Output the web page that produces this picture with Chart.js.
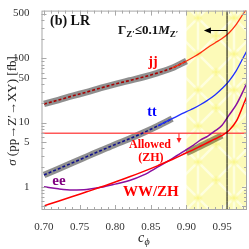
<!DOCTYPE html>
<html>
<head>
<meta charset="utf-8">
<style>
  html, body { margin: 0; padding: 0; background: #fff; }
</style>
</head>
<body>
<canvas id="grafica" width="249" height="249"></canvas>
<script src="https://cdn.jsdelivr.net/npm/chart.js@4/dist/chart.umd.min.js"></script>
<script>
// Valores de c_phi
const cPhi = [0.70, 0.72, 0.74, 0.76, 0.78, 0.80, 0.82, 0.84, 0.86, 0.88,
              0.90, 0.91, 0.92, 0.93, 0.94, 0.95, 0.96, 0.97, 0.98, 0.985];

// Secciones eficaces [fb] para cada canal
const sigmaJJ = [19.5, 22.4, 26.0, 29.9, 34.7, 39.8, 45.2, 51.3, 59.6, 70.8,
                 91, 105, 123, 148, 174, 204, 251, 339, 500, 600];
const sigmaTT = [1.53, 1.90, 2.37, 2.95, 3.67, 4.57, 5.6, 7.0, 8.9, 11.5,
                 14.8, 16.6, 19.1, 22.4, 26.9, 33.9, 44.7, 64.6, 104, 132];
const sigmaEE = [1.00, 0.93, 0.895, 0.91, 0.98, 1.10, 1.25, 1.53, 2.04, 2.75,
                 3.80, 4.47, 5.37, 6.17, 7.41, 9.1, 13.2, 19.0, 31.6, 42];
const sigmaWWZH = [0.505, 0.596, 0.705, 0.836, 0.99, 1.19, 1.43, 1.74, 2.14, 2.66,
                   3.39, 3.80, 4.32, 4.90, 5.56, 6.31, 7.6, 10.5, 19.0, 26];

// Limites y referencias
const allowedZH = 6.8;          // cota permitida (ZH)
const widthLimitC = 0.957;      // Gamma_Z' = 0.1 M_Z'
const arrowEndC = 0.9245;
const arrowSigma = 277;
const yellowStart = 0.90;
const jjBandEnd = 0.905;
const ttBandEnd = 0.88;
const wwBand = [0.895, 0.95];

const xTicks = [0.70, 0.75, 0.80, 0.85, 0.90, 0.95];
const yTicks = [1, 5, 10, 50, 100, 500];
const xMin = 0.6965, xMax = 0.985;
const yMin = 0.435, yMax = 555;

const serif = '"Liberation Serif", "DejaVu Serif", serif';

// Construir puntos {x, y} a partir de los arreglos
function puntos(valores, desde = -Infinity, hasta = Infinity) {
    return cPhi.map((c, i) => ({ x: c, y: valores[i] }))
               .filter(p => p.x >= desde - 1e-9 && p.x <= hasta + 1e-9);
}

function linea(data, color, width, extra = {}) {
    return Object.assign({
        data: data,
        borderColor: color,
        borderWidth: width,
        pointRadius: 0,
        fill: false,
        cubicInterpolationMode: 'monotone',
    }, extra);
}

// Patron de la banda amarilla
function patronAmarillo(ctx) {
    const p = document.createElement('canvas');
    p.width = 36; p.height = 36;
    const g = p.getContext('2d');
    g.fillStyle = '#fcfab8';
    g.fillRect(0, 0, 36, 36);
    g.strokeStyle = 'rgba(255,255,235,0.75)';
    g.lineWidth = 2.5;
    g.beginPath();
    g.moveTo(0, 0); g.lineTo(36, 36);
    g.moveTo(36, 0); g.lineTo(0, 36);
    g.moveTo(18, 0); g.lineTo(18, 36);
    g.stroke();
    [[0, 0], [36, 0], [0, 36], [36, 36], [18, 18]].forEach(([cx, cy]) => {
        const r = g.createRadialGradient(cx, cy, 0, cx, cy, 5);
        r.addColorStop(0, 'rgba(248,242,90,0.7)');
        r.addColorStop(1, 'rgba(248,242,90,0)');
        g.fillStyle = r;
        g.fillRect(cx - 5, cy - 5, 10, 10);
    });
    return ctx.createPattern(p, 'repeat');
}

// Plugin: banda amarilla, marco, marcas internas y textos
const decoraciones = {
    id: 'decoraciones',
    beforeDatasetsDraw(chart) {
        const { ctx, chartArea: a, scales: { x } } = chart;
        const x0 = x.getPixelForValue(yellowStart);
        ctx.save();
        ctx.fillStyle = patronAmarillo(ctx);
        ctx.fillRect(x0, a.top, a.right - x0, a.bottom - a.top);
        ctx.restore();
    },
    afterDatasetsDraw(chart) {
        const { ctx, chartArea: a, scales: { x, y } } = chart;
        ctx.save();

        // marco
        ctx.strokeStyle = '#a8a8a8';
        ctx.lineWidth = 1;
        ctx.strokeRect(a.left + 0.5, a.top + 0.5, a.right - a.left - 1, a.bottom - a.top - 1);

        // marcas del eje y (log)
        ctx.beginPath();
        for (let d = -1; d <= 2; d++) {
            for (let m = 1; m <= 9; m++) {
                const v = m * Math.pow(10, d);
                if (v < yMin || v > yMax) continue;
                const py = Math.round(y.getPixelForValue(v)) + 0.5;
                const len = (m === 1 || m === 5) ? 5 : 3;
                ctx.moveTo(a.left, py); ctx.lineTo(a.left + len, py);
                ctx.moveTo(a.right, py); ctx.lineTo(a.right - len, py);
            }
        }
        // marcas del eje x
        for (let k = 70; k <= 98; k++) {
            const v = k / 100;
            const px = Math.round(x.getPixelForValue(v)) + 0.5;
            const len = (k % 5 === 0) ? 5 : 3;
            ctx.moveTo(px, a.bottom); ctx.lineTo(px, a.bottom - len);
            ctx.moveTo(px, a.top); ctx.lineTo(px, a.top + len);
        }
        ctx.stroke();

        // flecha del limite de anchura
        const ax0 = x.getPixelForValue(widthLimitC);
        const ax1 = x.getPixelForValue(arrowEndC);
        const ay = Math.round(y.getPixelForValue(arrowSigma)) + 0.5;
        ctx.strokeStyle = '#000';
        ctx.fillStyle = '#000';
        ctx.beginPath();
        ctx.moveTo(ax0, ay); ctx.lineTo(ax1 + 4, ay);
        ctx.stroke();
        ctx.beginPath();
        ctx.moveTo(ax1, ay); ctx.lineTo(ax1 + 7, ay - 3); ctx.lineTo(ax1 + 7, ay + 3);
        ctx.closePath(); ctx.fill();

        // flecha roja de la region permitida
        const rx = x.getPixelForValue(0.8895);
        const ry0 = y.getPixelForValue(allowedZH);
        const ry1 = y.getPixelForValue(4.8);
        ctx.strokeStyle = '#ff2020';
        ctx.fillStyle = '#ff2020';
        ctx.beginPath();
        ctx.moveTo(rx, ry0); ctx.lineTo(rx, ry1 - 3);
        ctx.stroke();
        ctx.beginPath();
        ctx.moveTo(rx, ry1); ctx.lineTo(rx - 2.5, ry1 - 5); ctx.lineTo(rx + 2.5, ry1 - 5);
        ctx.closePath(); ctx.fill();

        // textos
        function texto(str, c, s, font, color, align = 'center') {
            ctx.font = font;
            ctx.fillStyle = color;
            ctx.textAlign = align;
            ctx.textBaseline = 'middle';
            ctx.fillText(str, x.getPixelForValue(c), y.getPixelForValue(s));
        }
        texto('(b) LR', 0.7084, 379, 'bold 14px ' + serif, '#111', 'left');
        texto('jj', 0.853, 88, 'bold 14px ' + serif, '#ff0000');
        texto('tt', 0.8516, 14.5, 'bold 14px ' + serif, '#0000ff');
        texto('ee', 0.721, 1.21, 'bold 15px ' + serif, '#800080');
        texto('Allowed', 0.8488, 4.45, 'bold 12px ' + serif, '#ff0000');
        texto('(ZH)', 0.850, 2.79, 'bold 12px ' + serif, '#ff0000');
        texto('WW/ZH', 0.850, 0.812, 'bold 15px ' + serif, '#ff0000');

        // Gamma_Z' <= 0.1 M_Z'
        let gx = x.getPixelForValue(0.8039);
        const gy = y.getPixelForValue(arrowSigma) + 4;
        ctx.textAlign = 'left';
        ctx.textBaseline = 'alphabetic';
        ctx.fillStyle = '#111';
        const partes = [
            ['\u0393', 'bold 13px ' + serif, 0],
            ['Z\u2032', 'bold 9px ' + serif, 3],
            ['\u22640.1', 'bold 13px ' + serif, 0],
            ['M', 'italic bold 13px ' + serif, 0],
            ['Z\u2032', 'bold 9px ' + serif, 3],
        ];
        partes.forEach(([s, f, dy]) => {
            ctx.font = f;
            ctx.fillText(s, gx, gy + dy);
            gx += ctx.measureText(s).width;
        });

        ctx.restore();

        // titulos de los ejes
        ctx.save();
        ctx.fillStyle = '#222';
        ctx.translate(13, 111);
        ctx.rotate(-Math.PI / 2);
        ctx.textBaseline = 'middle';
        const t1 = '\u03c3', t2 = ' (pp\u2192Z\u2032\u2192XY) [fb]';
        ctx.font = 'italic 13px ' + serif;
        const w1 = ctx.measureText(t1).width;
        ctx.font = '13px ' + serif;
        const w2 = ctx.measureText(t2).width;
        let tx = -(w1 + w2) / 2;
        ctx.font = 'italic 13px ' + serif;
        ctx.textAlign = 'left';
        ctx.fillText(t1, tx, 0);
        ctx.font = '13px ' + serif;
        ctx.fillText(t2, tx + w1, 0);
        ctx.restore();

        ctx.save();
        ctx.fillStyle = '#222';
        ctx.textAlign = 'left';
        ctx.textBaseline = 'alphabetic';
        ctx.font = 'italic 14px ' + serif;
        ctx.fillText('c', 138, 242);
        ctx.font = 'italic 10px ' + serif;
        ctx.fillText('\u03d5', 144.5, 245);
        ctx.restore();
    }
};

new Chart(document.getElementById('grafica'), {
    type: 'line',
    data: {
        datasets: [
            // lineas de referencia
            linea([{ x: xMin, y: allowedZH }, { x: xMax, y: allowedZH }], 'rgba(255,70,70,0.9)', 1.5, { order: 3 }),
            linea([{ x: widthLimitC, y: yMin }, { x: widthLimitC, y: yMax }], '#000', 1, { order: 1 }),
            // curvas
            linea(puntos(sigmaWWZH), '#ff0000', 1.5, { order: 2 }),
            linea(puntos(sigmaEE), '#8a10a0', 1.5, { order: 2 }),
            linea(puntos(sigmaTT, ttBandEnd - 0.02), '#2030ff', 1.3, { order: 2 }),
            linea(puntos(sigmaTT, -Infinity, ttBandEnd), '#10108c', 1.6, { order: 2, borderDash: [3, 2] }),
            linea(puntos(sigmaJJ, 0.88), '#ff3010', 1.3, { order: 2 }),
            linea(puntos(sigmaJJ, -Infinity, 0.90), '#a80000', 1.6, { order: 2, borderDash: [3, 2] }),
            // bandas de incertidumbre
            linea(puntos(sigmaJJ, -Infinity, jjBandEnd), 'rgba(100,100,100,0.72)', 6.5, { order: 5 }),
            linea(puntos(sigmaTT, -Infinity, ttBandEnd), 'rgba(100,100,100,0.72)', 6.5, { order: 5 }),
            linea(puntos(sigmaWWZH, wwBand[0], wwBand[1]), 'rgba(80,70,20,0.55)', 6.5, { order: 5 }),
        ],
    },
    options: {
        responsive: false,
        animation: false,
        events: [],
        layout: { padding: { top: 4, right: 2, left: 0, bottom: 0 } },
        plugins: {
            legend: { display: false },
            tooltip: { enabled: false },
        },
        scales: {
            x: {
                type: 'linear',
                min: xMin,
                max: xMax,
                grid: { display: false },
                border: { display: false },
                afterBuildTicks: s => { s.ticks = xTicks.map(v => ({ value: v })); },
                afterFit: s => { s.height = 39; },
                ticks: {
                    padding: 3,
                    maxRotation: 0,
                    color: '#333',
                    font: { family: serif, size: 11 },
                    callback: v => v.toFixed(2),
                },
            },
            y: {
                type: 'logarithmic',
                min: yMin,
                max: yMax,
                grid: { display: false },
                border: { display: false },
                afterBuildTicks: s => { s.ticks = yTicks.map(v => ({ value: v })); },
                afterFit: s => { s.width = 41.5; },
                ticks: {
                    padding: 4,
                    color: '#333',
                    font: { family: serif, size: 11 },
                    callback: v => String(v),
                },
            },
        },
    },
    plugins: [decoraciones],
});
</script>
</body>
</html>
